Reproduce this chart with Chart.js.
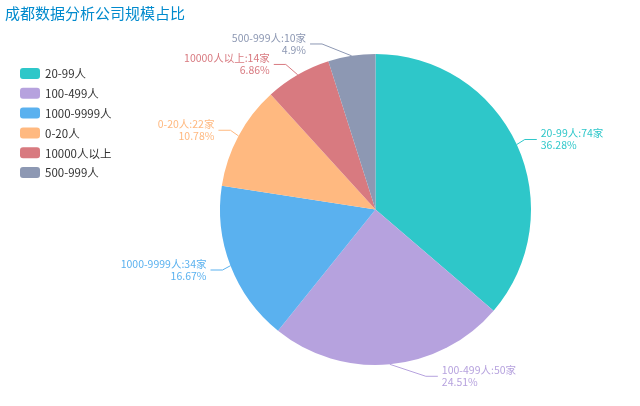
<!DOCTYPE html>
<html>
<head>
<meta charset="utf-8">
<script src="https://cdn.jsdelivr.net/npm/chart.js@4/dist/chart.umd.min.js"></script>
<style>
html,body{margin:0;padding:0;background:#fff;}
#wrap{width:640px;height:406px;position:relative;}
</style>
</head>
<body>
<div id="wrap"><canvas id="c" width="640" height="406"></canvas></div>
<script>
const titleText = '成都数据分析公司规模占比';
const categories = ['20-99人', '100-499人', '1000-9999人', '0-20人', '10000人以上', '500-999人'];
const counts = [74, 50, 34, 22, 14, 10];
const unit = '家';
const colors = ['#2ec7c9', '#b6a2de', '#5ab1ef', '#ffb980', '#d87a80', '#8d98b3'];

const FONT = '"Noto Sans CJK SC", "Noto Sans", sans-serif';
const total = counts.reduce((a, b) => a + b, 0);

// largest remainder percentages with 2 decimals (sum to 100)
function percents(vals) {
  const digits = 100 * 100;
  const tot = vals.reduce((a, b) => a + b, 0);
  const raw = vals.map(v => v / tot * digits);
  const seats = raw.map(Math.floor);
  const rem = raw.map((v, i) => v - seats[i]);
  let left = digits - seats.reduce((a, b) => a + b, 0);
  while (left > 0) {
    let m = -1, mi = -1;
    rem.forEach((r, i) => { if (r > m) { m = r; mi = i; } });
    seats[mi]++; rem[mi] = -1; left--;
  }
  return seats.map(s => String(+(s / 100).toFixed(2)));
}
const pcts = percents(counts);

const titleLegendPlugin = {
  id: 'titleLegend',
  afterDraw(chart) {
    const ctx = chart.ctx;
    ctx.save();
    ctx.fillStyle = '#008acd';
    ctx.font = '15px ' + FONT;
    ctx.textBaseline = 'middle';
    ctx.textAlign = 'left';
    ctx.fillText(titleText, 5, 13);
    ctx.font = '11.5px ' + FONT;
    categories.forEach((name, i) => {
      const y = 73.5 + i * 19.8;
      ctx.fillStyle = colors[i];
      ctx.beginPath();
      ctx.roundRect(20, y - 5.5, 20, 11, 3);
      ctx.fill();
      ctx.fillStyle = '#333';
      ctx.fillText(name, 45, y + 0.5);
    });
    ctx.restore();
  }
};

const pieLabelPlugin = {
  id: 'pieLabels',
  afterDatasetsDraw(chart) {
    const ctx = chart.ctx;
    const meta = chart.getDatasetMeta(0);
    const len = 12, len2 = 12, dist = 4, h = 20;
    const items = meta.data.map((arc, i) => {
      const cx = arc.x, cy = arc.y, r = arc.outerRadius;
      const mid = (arc.startAngle + arc.endAngle) / 2;
      const dx = Math.cos(mid), dy = Math.sin(mid);
      const dir = dx < 0 ? -1 : 1;
      const x1 = cx + r * dx, y1 = cy + r * dy;
      const x2 = x1 + dx * len, y2 = y1 + dy * len;
      const x3 = x2 + dir * len2;
      return {i, cx, cy, r, dir, x1, y1, x: x3 + dir * dist, y: y2};
    });
    const H = chart.height;
    [-1, 1].forEach(side => {
      const list = items.filter(o => o.dir === side).sort((a, b) => a.y - b.y);
      let lastY = 0;
      list.forEach(o => {
        if (o.y - h / 2 < lastY) o.y = lastY + h / 2;
        lastY = o.y + h / 2;
      });
      let limit = H;
      for (let j = list.length - 1; j >= 0; j--) {
        const o = list[j];
        if (o.y + h / 2 > limit) o.y = limit - h / 2;
        limit = o.y - h / 2;
      }
      list.forEach(o => {
        const dY = Math.abs(o.y - o.cy);
        const R = o.r + len + len2;
        const dX = dY < o.r + len ? Math.sqrt(R * R - dY * dY) : Math.abs(o.x - o.cx);
        o.x = o.cx + dX * o.dir;
      });
    });
    ctx.save();
    items.forEach(o => {
      const col = colors[o.i];
      const px2 = o.x - o.dir * dist;
      const px1 = px2 - o.dir * len2;
      ctx.strokeStyle = col;
      ctx.lineWidth = 1;
      ctx.beginPath();
      ctx.moveTo(o.x1, o.y1);
      ctx.lineTo(px1, o.y);
      ctx.lineTo(px2, o.y);
      ctx.stroke();
      ctx.fillStyle = col;
      ctx.font = '10.5px ' + FONT;
      ctx.textAlign = o.dir < 0 ? 'right' : 'left';
      ctx.textBaseline = 'middle';
      ctx.fillText(categories[o.i] + ':' + counts[o.i] + unit, o.x, o.y - 6);
      ctx.fillText(pcts[o.i] + '%', o.x, o.y + 6);
    });
    ctx.restore();
  }
};

new Chart(document.getElementById('c'), {
  type: 'pie',
  data: {
    labels: categories,
    datasets: [{
      data: counts,
      backgroundColor: colors,
      borderWidth: 0,
      hoverOffset: 0
    }]
  },
  options: {
    responsive: false,
    animation: false,
    radius: 155.5,
    layout: {padding: {left: 220, right: 109, top: 54, bottom: 41}},
    plugins: {legend: {display: false}, tooltip: {enabled: false}, title: {display: false}},
    events: []
  },
  plugins: [pieLabelPlugin, titleLegendPlugin]
});
</script>
</body>
</html>
